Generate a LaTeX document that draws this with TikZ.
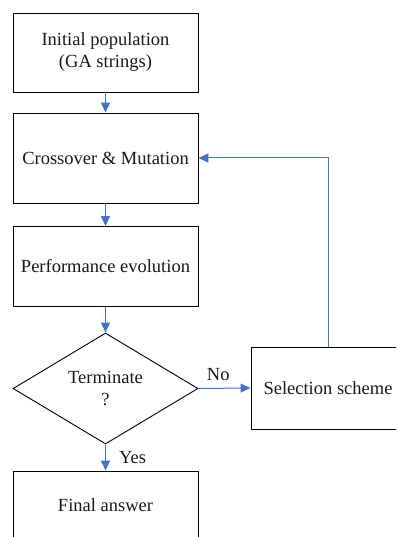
\documentclass[tikz,border=0pt]{standalone}
\usepackage{fontspec}
\setmainfont{Liberation Serif}
\usetikzlibrary{arrows.meta,shapes.geometric}
\definecolor{flowblue}{HTML}{4472C4}
\begin{document}
\begin{tikzpicture}[x=1pt,y=-1pt,
  txt/.style={font=\fontsize{18.5}{22}\selectfont, align=center, text=black!90},
  box/.style={draw=black, line width=0.9pt, rectangle, inner sep=0pt, minimum width=185pt, txt},
  flow/.style={draw=flowblue, line width=1pt, -{Triangle[length=10pt,width=9pt]}},
  lbl/.style={txt, inner sep=0pt}]
\useasboundingbox (0,0) rectangle (396,537);
\clip (0,0) rectangle (396,537);
\node[box, minimum height=79pt] (init) at (105.5,52.5) {Initial population\\(GA strings)};
\node[box, minimum height=90pt] (cross) at (105.5,158) {Crossover \& Mutation};
\node[box, minimum height=80pt] (perf) at (105.5,266.5) {Performance evolution};
\node[diamond, draw=black, line width=0.9pt, inner sep=0pt, minimum width=185pt, minimum height=111pt] (dec) at (105.5,388.5) {};
\node[lbl] (dectext) at (dec.center) {Terminate\\?};
\node[box, minimum height=68pt] (final) at (105.5,505) {Final answer};
\node[box, minimum width=154pt, minimum height=82pt] (sel) at (328,388) {Selection scheme};
\draw[flow] (init.south) -- (cross.north);
\draw[flow] (cross.south) -- (perf.north);
\draw[flow] (perf.south) -- (dec.north);
\draw[flow] (dec.south) -- node[lbl, pos=0.5, xshift=27pt] {Yes} (final.north);
\draw[flow] (dec.east) -- node[lbl, pos=0.38, yshift=14pt] {No} (sel.west);
\draw[flow] (sel.north) |- (cross.east);
\end{tikzpicture}
\end{document}
